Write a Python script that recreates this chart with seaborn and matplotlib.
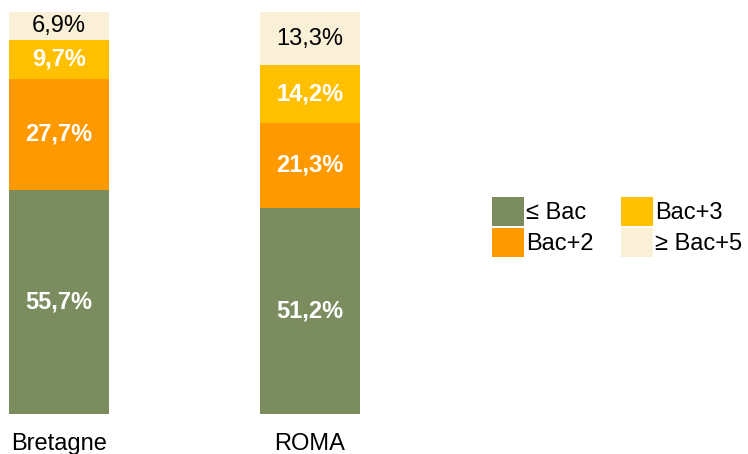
import matplotlib.pyplot as plt
import pandas as pd
import seaborn as sns
from matplotlib.patches import Patch

sns.set_style("white")
plt.rcParams["font.family"] = ["Liberation Sans", "DejaVu Sans"]
plt.rcParams["text.color"] = "black"
plt.rcParams["xtick.color"] = "black"

regions = ["Bretagne", "ROMA"]
levels = ["≤ Bac", "Bac+2", "Bac+3", "≥ Bac+5"]
bac = [55.7, 51.2]
bac2 = [27.7, 21.3]
bac3 = [9.7, 14.2]
bac5 = [6.9, 13.3]
colors = ["#7b8c5f", "#ff9900", "#ffc000", "#faf0d7"]
text_colors = ["white", "white", "white", "black"]
weights = ["bold", "bold", "bold", "normal"]

df = pd.DataFrame({"region": regions, levels[0]: bac, levels[1]: bac2,
                   levels[2]: bac3, levels[3]: bac5})
cum = df[levels].cumsum(axis=1)

fig = plt.figure(figsize=(7.48, 4.54), dpi=100)
ax = fig.add_axes([9 / 748, 40 / 454, 351 / 748, 402 / 454])

# stacked bars: draw from the top layer down, each as a cumulative total
for i in range(len(levels) - 1, -1, -1):
    sns.barplot(x=df["region"], y=cum[levels[i]], color=colors[i],
                width=0.4, saturation=1, linewidth=0, ax=ax, zorder=2)

for j in range(len(regions)):
    base = 0
    for i, lev in enumerate(levels):
        v = df[lev][j]
        ax.text(j, base + v / 2, f"{v:.1f}%".replace(".", ","), ha="center",
                va="center", color=text_colors[i], fontsize=17,
                fontweight=weights[i])
        base += v

ax.set_xlim(-0.2, 1.2)
ax.set_ylim(0, 100)
ax.set_xlabel("")
ax.set_ylabel("")
ax.set_yticks([])
ax.tick_params(axis="x", length=0, labelsize=17, pad=14)
sns.despine(ax=ax, left=True, bottom=True)

handles = [Patch(facecolor=c, edgecolor="none") for c in colors]
fig.legend(handles, levels, ncol=2, loc="upper left",
           bbox_to_anchor=(492 / 748, 1 - 197 / 454), frameon=False,
           fontsize=17, handlelength=1.35, handleheight=1.5,
           handletextpad=0.1, columnspacing=1.15, labelspacing=0.08,
           borderpad=0, borderaxespad=0)

plt.savefig("out.png", dpi=100)
